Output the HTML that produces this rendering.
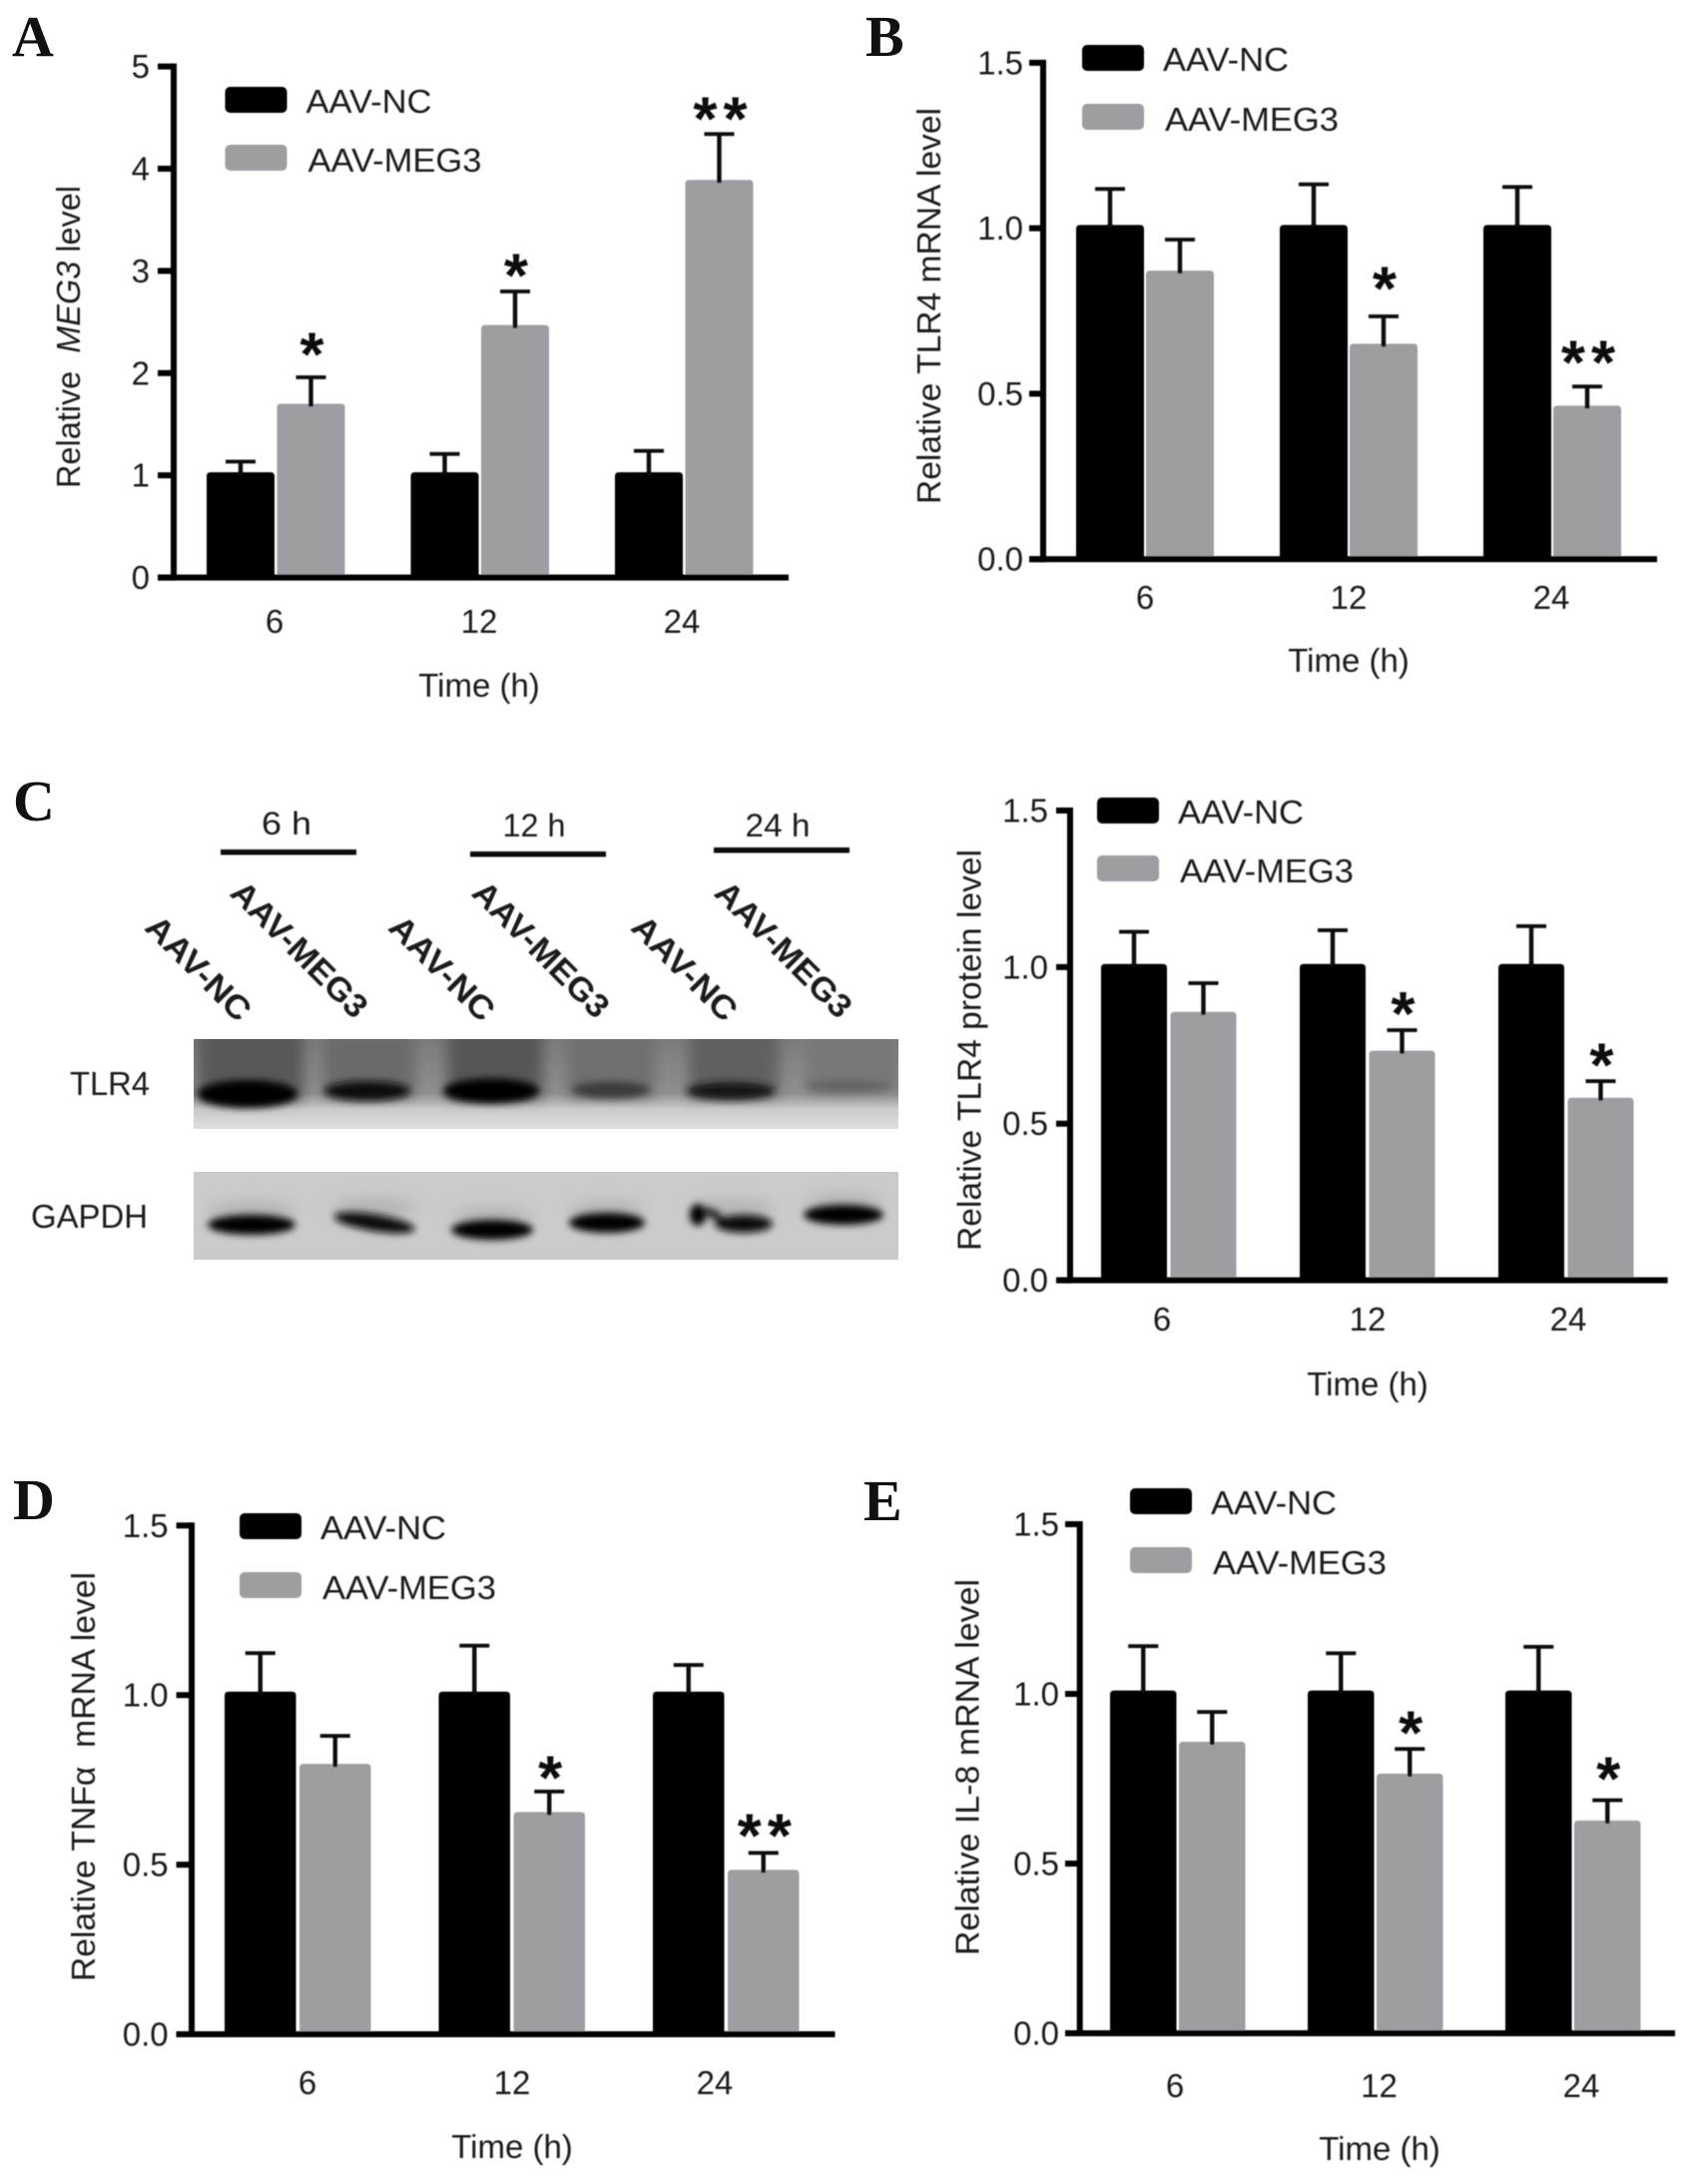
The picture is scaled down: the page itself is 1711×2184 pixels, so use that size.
<!DOCTYPE html>
<html>
<head>
<meta charset="utf-8">
<title>AAV-MEG3 expression panels</title>
<style>
  html, body { margin: 0; padding: 0; background: #fff; }
  body { width: 1711px; height: 2184px; overflow: hidden; }
  svg { display: block; }
  text { font-family: "Liberation Sans", sans-serif; fill: #1a1a1a; white-space: pre; }
  .letter { font-family: "Liberation Serif", serif; font-weight: bold; font-size: 58px; fill: #111; }
  .star { font-weight: bold; font-size: 62px; fill: #111; }
</style>
</head>
<body>
<svg id="figure" xmlns="http://www.w3.org/2000/svg" width="1711" height="2184" viewBox="0 0 1711 2184">
  <defs>
    <filter id="soft" x="-2%" y="-2%" width="104%" height="104%"><feGaussianBlur stdDeviation="0.6"/></filter>
    <filter id="blur3" x="-30%" y="-80%" width="160%" height="260%"><feGaussianBlur stdDeviation="3.6"/></filter>
    <filter id="blur7" x="-30%" y="-60%" width="160%" height="220%"><feGaussianBlur stdDeviation="7"/></filter>
    <linearGradient id="blot1bg" x1="0" y1="0" x2="0" y2="1">
      <stop offset="0" stop-color="#7c7c7c"/>
      <stop offset="0.6" stop-color="#909090"/>
      <stop offset="0.78" stop-color="#cccccc"/>
      <stop offset="1" stop-color="#dedede"/>
    </linearGradient>
  </defs>
  <rect width="1711" height="2184" fill="#ffffff"/>

  <g id="blots">
    <g>
      <rect x="194" y="1041" width="706" height="90" fill="url(#blot1bg)"/>
      <svg x="194" y="1041" width="706" height="90" viewBox="194 1041 706 90">
        <g filter="url(#blur7)">
          <rect x="198" y="1030" width="106" height="72" fill="#585858"/>
          <rect x="324" y="1030" width="92" height="68" fill="#6a6a6a"/>
          <rect x="448" y="1030" width="96" height="70" fill="#565656"/>
          <rect x="568" y="1030" width="88" height="68" fill="#707070"/>
          <rect x="690" y="1030" width="90" height="68" fill="#606060"/>
          <rect x="808" y="1030" width="92" height="64" fill="#787878"/>
        </g>
        <g filter="url(#blur3)">
          <ellipse cx="248" cy="1096" rx="50" ry="14" fill="#000"/>
          <ellipse cx="368" cy="1093" rx="43" ry="10" fill="#0c0c0c"/>
          <ellipse cx="492" cy="1093" rx="48" ry="12.5" fill="#000"/>
          <ellipse cx="612" cy="1092" rx="39" ry="8.5" fill="#3a3a3a"/>
          <ellipse cx="732" cy="1093" rx="44" ry="9" fill="#161616"/>
          <ellipse cx="850" cy="1088" rx="43" ry="6" fill="#646464"/>
        </g>
      </svg>
    </g>
    <g>
      <rect x="194" y="1174" width="706" height="88" fill="#cbcbcb"/>
      <svg x="194" y="1174" width="706" height="88" viewBox="194 1174 706 88">
        <g filter="url(#blur7)">
          <ellipse cx="252" cy="1213" rx="44" ry="10" fill="#b4b4b4"/>
          <ellipse cx="375" cy="1210" rx="42" ry="10" fill="#b4b4b4"/>
          <ellipse cx="493" cy="1218" rx="40" ry="9" fill="#b4b4b4"/>
          <ellipse cx="608" cy="1212" rx="38" ry="9" fill="#b4b4b4"/>
          <ellipse cx="735" cy="1210" rx="40" ry="9" fill="#b4b4b4"/>
          <ellipse cx="845" cy="1204" rx="38" ry="9" fill="#b4b4b4"/>
        </g>
        <g filter="url(#blur3)">
          <ellipse cx="252" cy="1227" rx="44" ry="10" fill="#060606"/>
          <ellipse cx="375" cy="1225" rx="41" ry="8.5" fill="#0c0c0c" transform="rotate(9 375 1225)"/>
          <ellipse cx="493" cy="1232" rx="41" ry="10" fill="#060606"/>
          <ellipse cx="608" cy="1225" rx="38" ry="10" fill="#060606"/>
          <ellipse cx="745" cy="1226" rx="29" ry="9" fill="#0c0c0c"/>
          <ellipse cx="699" cy="1217" rx="8" ry="11" fill="#000"/>
          <ellipse cx="714" cy="1216" rx="11" ry="4.5" fill="#222" transform="rotate(25 714 1216)"/>
          <ellipse cx="845" cy="1217" rx="40" ry="10" fill="#060606"/>
        </g>
      </svg>
    </g>
  </g>
  <g id="blot-labels" filter="url(#soft)">
    <text x="287" y="836" font-size="32" text-anchor="middle" textLength="50" lengthAdjust="spacingAndGlyphs">6 h</text>
    <text x="535" y="838" font-size="32" text-anchor="middle" textLength="63" lengthAdjust="spacingAndGlyphs">12 h</text>
    <text x="779" y="838" font-size="32" text-anchor="middle" textLength="65" lengthAdjust="spacingAndGlyphs">24 h</text>
    <rect x="221" y="851" width="136" height="5.5" fill="#111"/>
    <rect x="471" y="853" width="136" height="5.5" fill="#111"/>
    <rect x="715" y="849" width="136" height="5.5" fill="#111"/>
    <text font-weight="bold" font-size="33" text-anchor="middle" textLength="134" lengthAdjust="spacingAndGlyphs" transform="translate(191,978) rotate(45)">AAV-NC</text>
    <text font-weight="bold" font-size="33" text-anchor="middle" textLength="178" lengthAdjust="spacingAndGlyphs" transform="translate(292,959) rotate(45)">AAV-MEG3</text>
    <text font-weight="bold" font-size="33" text-anchor="middle" textLength="134" lengthAdjust="spacingAndGlyphs" transform="translate(435,978) rotate(45)">AAV-NC</text>
    <text font-weight="bold" font-size="33" text-anchor="middle" textLength="178" lengthAdjust="spacingAndGlyphs" transform="translate(534,959) rotate(45)">AAV-MEG3</text>
    <text font-weight="bold" font-size="33" text-anchor="middle" textLength="134" lengthAdjust="spacingAndGlyphs" transform="translate(678,978) rotate(45)">AAV-NC</text>
    <text font-weight="bold" font-size="33" text-anchor="middle" textLength="178" lengthAdjust="spacingAndGlyphs" transform="translate(777,959) rotate(45)">AAV-MEG3</text>
    <text x="70" y="1097" font-size="33" textLength="80" lengthAdjust="spacingAndGlyphs">TLR4</text>
    <text x="31" y="1230" font-size="33" textLength="117" lengthAdjust="spacingAndGlyphs">GAPDH</text>
  </g>
  <text class="letter" x="12" y="56">A</text>
  <text class="letter" x="867" y="56">B</text>
  <text class="letter" x="13" y="822">C</text>
  <text class="letter" x="13" y="1522">D</text>
  <text class="letter" x="865" y="1523">E</text>
  <g id="charts" filter="url(#soft)"></g>
</svg>
<script>
// Shared categories and series labels
const timeCategories = ['6', '12', '24'];
const seriesNames = ['AAV-NC', 'AAV-MEG3'];
const yTicks5 = [0, 1, 2, 3, 4, 5];
const yTickLabels5 = ['0', '1', '2', '3', '4', '5'];
const yTicks15 = [0, 0.5, 1.0, 1.5];
const yTickLabels15 = ['0.0', '0.5', '1.0', '1.5'];

// Panel A: Relative MEG3 level
const ncValuesA = [1.03, 1.03, 1.03];
const ncErrorTopA = [1.135, 1.21, 1.24];
const megValuesA = [1.70, 2.47, 3.89];
const megErrorTopA = [1.96, 2.80, 4.34];
const starsA = [1, 1, 2];

// Panel B: Relative TLR4 mRNA level
const ncValuesB = [1.01, 1.01, 1.01];
const ncErrorTopB = [1.119, 1.133, 1.125];
const megValuesB = [0.872, 0.651, 0.464];
const megErrorTopB = [0.966, 0.734, 0.522];
const starsB = [0, 1, 2];

// Panel C: Relative TLR4 protein level
const ncValuesC = [1.01, 1.01, 1.01];
const ncErrorTopC = [1.113, 1.118, 1.131];
const megValuesC = [0.857, 0.733, 0.583];
const megErrorTopC = [0.949, 0.799, 0.636];
const starsC = [0, 1, 1];

// Panel D: Relative TNFa mRNA level
const ncValuesD = [1.01, 1.01, 1.01];
const ncErrorTopD = [1.124, 1.146, 1.089];
const megValuesD = [0.797, 0.655, 0.485];
const megErrorTopD = [0.880, 0.716, 0.535];
const starsD = [0, 1, 2];

// Panel E: Relative IL-8 mRNA level
const ncValuesE = [1.01, 1.01, 1.01];
const ncErrorTopE = [1.141, 1.12, 1.139];
const megValuesE = [0.859, 0.765, 0.627];
const megErrorTopE = [0.947, 0.838, 0.687];
const starsE = [0, 1, 1];

const SVG_NS = 'http://www.w3.org/2000/svg';
const BLACK = '#000000';
const GRAY = '#9d9da2';

function make(tag, attrs, parent, text) {
  const el = document.createElementNS(SVG_NS, tag);
  for (const k in attrs) el.setAttribute(k, attrs[k]);
  if (text !== undefined) el.textContent = text;
  parent.appendChild(el);
  return el;
}

function drawPanel(p) {
  const root = document.getElementById('charts');
  const g = make('g', {}, root);
  
  
  const yScale = v => p.base - (v / p.yMax) * (p.base - p.top);
  const xBar = (i, s) => p.firstBar + i * p.pitch + s * p.grayOffset;

  // bars, error bars, significance stars
  p.categories.forEach((cat, i) => {
    [[p.nc, p.ncErr, BLACK, 'nc'], [p.meg, p.megErr, GRAY, 'meg3']].forEach((s, si) => {
      const x = xBar(i, si);
      const top = yScale(s[0][i]);
      const cx = x + p.barW / 2;
      const errY = yScale(s[1][i]);
      const stem = make('rect', { x: cx - 2.2, y: errY, width: 4.4, height: top - errY + 4, fill: '#0a0a0a' }, g);
      
      
      const cap = make('rect', { x: cx - 15, y: errY - 1.8, width: 30, height: 3.8, fill: '#0a0a0a' }, g);
      
      
      const bar = make('path', {
        d: 'M' + x + ' ' + yScale(0) + 'V' + (top + 4) + 'Q' + x + ' ' + top + ' ' + (x + 4) + ' ' + top +
            'H' + (x + p.barW - 4) + 'Q' + (x + p.barW) + ' ' + top + ' ' + (x + p.barW) + ' ' + (top + 4) + 'V' + yScale(0) + 'Z',
        fill: s[2]
      }, g);
      
      
      const tip = make('rect', { x: cx - 2.2, y: top - 1, width: 4.4, height: 4, fill: '#0a0a0a' }, g);
      
      
    });
    if (p.stars[i] > 0) {
      const cx = xBar(i, 1) + p.barW / 2 + 1;
      const cy = yScale(p.megErr[i]) - p.starGap[i];
      const star = make('text', {
        class: 'star', x: cx + (p.stars[i] > 1 ? 3 : 0), y: cy + 28.5, 'text-anchor': 'middle',
        'letter-spacing': p.stars[i] > 1 ? 6 : 0
      }, g, '*'.repeat(p.stars[i]));
      
      
    }
    const lab = make('text', {
      x: p.catX[i], y: p.catBase, 'font-size': 33, 'text-anchor': 'middle'
    }, g, cat);
    
    
  });

  // axes
  const yAxis = make('rect', { x: p.axisX - 3, y: p.top - 3, width: 6, height: p.base - p.top + 6, fill: '#000' }, g);
  
  
  const xAxis = make('rect', { x: p.xLeft, y: p.base - 3, width: p.xRight - p.xLeft, height: 6, fill: '#000' }, g);
  
  
  p.ticks.forEach((t, i) => {
    const y = yScale(t);
    const tick = make('rect', { x: p.xLeft, y: y - 3, width: p.axisX - p.xLeft, height: 6, fill: '#000' }, g);
    
    
    const lab = make('text', {
      x: p.xLeft - p.tickGap, y: y + 11.5, 'font-size': 33, 'text-anchor': 'end'
    }, g, p.tickLabels[i]);
    
    
  });

  // axis titles
  const title = make('text', {
    'font-size': 33, 'text-anchor': 'middle', textLength: p.titleLen, lengthAdjust: 'spacingAndGlyphs',
    transform: 'translate(' + (p.titleX + 11.5) + ',' + p.titleY + ') rotate(-90)'
  }, g);
  
  
  p.titleParts.forEach(part => {
    make('tspan', part[1] ? { 'font-style': 'italic' } : {}, title, part[0]);
  });
  const xTitle = make('text', {
    x: p.timeX, y: p.timeBase, 'font-size': 33, 'text-anchor': 'middle'
  }, g, 'Time (h)');
  
  

  // legend
  p.legendY.forEach((ly, i) => {
    const sw = make('rect', { x: p.legendX, y: ly, width: 62, height: 26, rx: 5, fill: i ? GRAY : BLACK }, g);
    
    
    const tx = make('text', {
      x: p.legendX + 81 + i * 2, y: ly + 26 + i, 'font-size': 33,
      textLength: i ? 174 : 126, lengthAdjust: 'spacingAndGlyphs'
    }, g, seriesNames[i]);
    
    
  });
}

drawPanel({
  id: 'meg3-level', categories: timeCategories, nc: ncValuesA, ncErr: ncErrorTopA, meg: megValuesA, megErr: megErrorTopA,
  stars: starsA, ticks: yTicks5, tickLabels: yTickLabels5, yMax: 5, tickGap: 8,
  axisX: 174, top: 66.6, base: 578.6, xLeft: 158, xRight: 790,
  firstBar: 207, pitch: 204.5, barW: 68, grayOffset: 70.5, catBase: 634, catX: [275, 480, 683],
  starGap: [30, 23, 22], titleX: 68.6, titleY: 337.5, titleLen: 303,
  titleParts: [['Relative  ', false], ['MEG3', true], [' level', false]],
  timeX: 480, timeBase: 698, legendX: 225.5, legendY: [87, 145]
});
drawPanel({
  id: 'tlr4-mrna', categories: timeCategories, nc: ncValuesB, ncErr: ncErrorTopB, meg: megValuesB, megErr: megErrorTopB,
  stars: starsB, ticks: yTicks15, tickLabels: yTickLabels15, yMax: 1.5, tickGap: 6,
  axisX: 1045, top: 62.9, base: 560.2, xLeft: 1031, xRight: 1660,
  firstBar: 1078, pitch: 204, barW: 68, grayOffset: 70, catBase: 610, catX: [1147, 1351, 1554],
  starGap: [0, 35, 31], titleX: 930.7, titleY: 306.5, titleLen: 397,
  titleParts: [['Relative TLR4 mRNA level', false]],
  timeX: 1351, timeBase: 673, legendX: 1084, legendY: [45, 104]
});
drawPanel({
  id: 'tlr4-protein', categories: timeCategories, nc: ncValuesC, ncErr: ncErrorTopC, meg: megValuesC, megErr: megErrorTopC,
  stars: starsC, ticks: yTicks15, tickLabels: yTickLabels15, yMax: 1.5, tickGap: 8,
  axisX: 1072, top: 812, base: 1282.6, xLeft: 1058, xRight: 1670.6,
  firstBar: 1103, pitch: 199, barW: 66, grayOffset: 69.5, catBase: 1333, catX: [1164, 1370, 1571],
  starGap: [0, 23.5, 23], titleX: 971, titleY: 1052, titleLen: 402,
  titleParts: [['Relative TLR4 protein level', false]],
  timeX: 1370, timeBase: 1398, legendX: 1099, legendY: [799, 857]
});
drawPanel({
  id: 'tnfa-mrna', categories: timeCategories, nc: ncValuesD, ncErr: ncErrorTopD, meg: megValuesD, megErr: megErrorTopD,
  stars: starsD, ticks: yTicks15, tickLabels: yTickLabels15, yMax: 1.5, tickGap: 8,
  axisX: 192, top: 1528.3, base: 2038, xLeft: 176.6, xRight: 836.5,
  firstBar: 225, pitch: 214.5, barW: 71.5, grayOffset: 75, catBase: 2098, catX: [308, 513, 716],
  starGap: [0, 20.7, 24], titleX: 83.4, titleY: 1780, titleLen: 410,
  titleParts: [['Relative TNF\u03B1  mRNA level', false]],
  timeX: 513, timeBase: 2162, legendX: 240, legendY: [1516, 1575]
});
drawPanel({
  id: 'il8-mrna', categories: timeCategories, nc: ncValuesE, ncErr: ncErrorTopE, meg: megValuesE, megErr: megErrorTopE,
  stars: starsE, ticks: yTicks15, tickLabels: yTickLabels15, yMax: 1.5, tickGap: 6,
  axisX: 1081.7, top: 1527, base: 2037, xLeft: 1067, xRight: 1678,
  firstBar: 1112, pitch: 198, barW: 66.5, grayOffset: 69, catBase: 2101, catX: [1177, 1381.5, 1584],
  starGap: [0, 23.3, 28.5], titleX: 969, titleY: 1770.5, titleLen: 377,
  titleParts: [['Relative IL-8 mRNA level', false]],
  timeX: 1382, timeBase: 2164, legendX: 1132, legendY: [1491, 1550]
});
</script>
</body>
</html>
